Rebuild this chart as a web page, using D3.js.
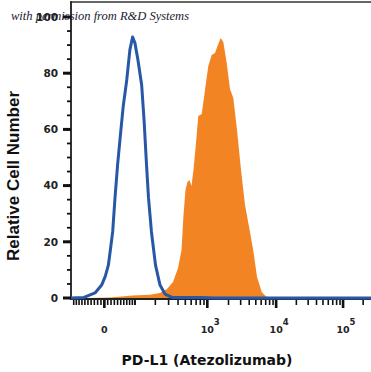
<!DOCTYPE html>
<html>
<head>
<meta charset="utf-8">
<script src="https://cdn.jsdelivr.net/npm/d3@7"></script>
<style>
  body { margin: 0; background: #fff; }
  svg { display: block; }
</style>
</head>
<body>
<div id="chart"></div>
<script>
var WIDTH = 371, HEIGHT = 372;
var M = { left: 71, right: 371, top: 17, bottom: 298 };

// isotype control (blue outline): fluorescence intensity and relative cell number
var isotypeX = [-111, -63, -28, -8, 3, 12, 18, 25, 32, 40, 49, 58, 70, 81, 91, 100, 112, 128, 139, 151, 161, 177, 201, 231, 269, 333, 792, 1283, 262144];
var isotypeY = [0, 0.2, 1.8, 4.6, 7.8, 11.7, 17.1, 23.6, 35.5, 47.3, 58, 68.1, 77.6, 88.3, 92.9, 90.7, 84.7, 75.8, 63.3, 47.3, 35.6, 23.5, 11.7, 4.6, 1.4, 0.2, 0.2, 0, 0];

// PD-L1 (Atezolizumab) stained cells (orange fill)
var pdl1X = [-50, 17, 92, 169, 231, 286, 343, 400, 445, 473, 503, 535, 569, 606, 645, 698, 750, 836, 929, 1033, 1153, 1283, 1383, 1546, 1684, 1884, 2101, 2345, 2654, 3034, 3471, 4108, 4625, 5209, 6111, 7074, 8681];
var pdl1Y = [0, 0.2, 0.9, 1.2, 1.8, 3.2, 5.7, 10.7, 17.1, 29.5, 38.4, 41.3, 42, 39.9, 45.6, 55.2, 64.8, 65.5, 74, 82.6, 86.5, 87.2, 89.5, 92.5, 91.1, 83.6, 74.4, 71.2, 59.8, 45.6, 33.1, 23.5, 16.4, 7.5, 2.1, 0.5, 0];

var yMajor = [0, 20, 40, 60, 80, 100];
var yMinor = d3.range(0, 101, 5);
var xMajor = [0, 1e3, 1e4, 1e5];
var xBase = ['0', '10', '10', '10'];
var xExp = ['', '3', '4', '5'];

// logicle (biexponential) transform, data -> display [0, 1]
var logicle = (function (T, W, Mdec) {
  var w = W / Mdec, x1 = w, x0 = 2 * w;
  var b = Mdec * Math.LN10;
  var lo = 1e-9, hi = b;
  for (var i = 0; i < 80; i++) {
    var mid = (lo + hi) / 2;
    if (2 * (Math.log(mid) - Math.log(b)) + w * (b + mid) > 0) hi = mid; else lo = mid;
  }
  var d = (lo + hi) / 2;
  var ca = Math.exp(x0 * (b + d));
  var mfa = Math.exp(b * x1) - ca / Math.exp(d * x1);
  var a = T / ((Math.exp(b) - mfa) - ca / Math.exp(d));
  var c = ca * a, f = -mfa * a;
  function inverse(y) {
    var neg = y < x1;
    if (neg) y = 2 * x1 - y;
    var v = a * Math.exp(b * y) + f - c * Math.exp(-d * y);
    return neg ? -v : v;
  }
  return function (v) {
    var l = -0.5, h = 1.2;
    for (var i = 0; i < 60; i++) {
      var m = (l + h) / 2;
      if (inverse(m) < v) l = m; else h = m;
    }
    return (l + h) / 2;
  };
})(262144, 0.5, 4.5);

var xDisp = d3.scaleLinear().domain([0, 1]).range([M.left, M.right]);
var x = function (v) { return xDisp(logicle(v)); };
var y = d3.scaleLinear().domain([0, 100]).range([M.bottom, M.top]);

// minor x ticks: every 10 near zero, then 1..9 x each decade
var xMinor = d3.range(-100, 101, 10);
[100, 1e3, 1e4, 1e5].forEach(function (p) {
  d3.range(1, 10).forEach(function (k) { if (k * p <= 262144) xMinor.push(k * p); });
});

var svg = d3.select('#chart').append('svg')
  .attr('width', WIDTH)
  .attr('height', HEIGHT)
  .style('background', 'white');

var pdl1 = pdl1X.map(function (v, i) { return [v, pdl1Y[i]]; });
var iso = isotypeX.map(function (v, i) { return [v, isotypeY[i]]; });

svg.append('path')
  .datum(pdl1)
  .attr('fill', '#f28423')
  .attr('d', d3.area()
    .x(function (d) { return x(d[0]); })
    .y0(y(0))
    .y1(function (d) { return y(d[1]); }));

// frame: top and left
svg.append('line')
  .attr('x1', M.left).attr('x2', M.right)
  .attr('y1', 2).attr('y2', 2)
  .attr('stroke', '#333').attr('stroke-width', 1.5);
svg.append('line')
  .attr('x1', M.left).attr('x2', M.left)
  .attr('y1', 1).attr('y2', M.bottom + 1)
  .attr('stroke', '#333').attr('stroke-width', 2);
svg.append('line')
  .attr('x1', M.left - 1).attr('x2', M.right)
  .attr('y1', M.bottom + 1).attr('y2', M.bottom + 1)
  .attr('stroke', '#222').attr('stroke-width', 2);

svg.append('path')
  .datum(iso)
  .attr('fill', 'none')
  .attr('stroke', '#2757a6')
  .attr('stroke-width', 3)
  .attr('stroke-linejoin', 'round')
  .attr('d', d3.line()
    .x(function (d) { return x(d[0]); })
    .y(function (d) { return y(d[1]); }));

// y ticks
svg.selectAll('.ymin').data(yMinor).enter().append('line')
  .attr('x1', M.left - 4).attr('x2', M.left)
  .attr('y1', function (d) { return y(d); }).attr('y2', function (d) { return y(d); })
  .attr('stroke', '#111').attr('stroke-width', 1.8);
svg.selectAll('.ymaj').data(yMajor).enter().append('line')
  .attr('x1', M.left - 8).attr('x2', M.left)
  .attr('y1', function (d) { return y(d); }).attr('y2', function (d) { return y(d); })
  .attr('stroke', '#111').attr('stroke-width', 3);
svg.selectAll('.ylab').data(yMajor).enter().append('text')
  .attr('x', 58)
  .attr('y', function (d) { return y(d); })
  .attr('dy', '0.36em')
  .attr('text-anchor', 'end')
  .style('font', 'bold 10.5px "DejaVu Sans"')
  .attr('fill', '#222')
  .text(function (d) { return d; });

// x ticks
svg.selectAll('.xmin').data(xMinor).enter().append('line')
  .attr('x1', function (d) { return x(d); }).attr('x2', function (d) { return x(d); })
  .attr('y1', M.bottom + 2).attr('y2', M.bottom + 7)
  .attr('stroke', '#111').attr('stroke-width', 1.6);
svg.selectAll('.xmaj').data(xMajor).enter().append('line')
  .attr('x1', function (d) { return x(d); }).attr('x2', function (d) { return x(d); })
  .attr('y1', M.bottom + 2).attr('y2', M.bottom + 10)
  .attr('stroke', '#111').attr('stroke-width', 2.6);
svg.selectAll('.xlab').data(xMajor).enter().append('text')
  .attr('x', function (d) { return x(d); })
  .attr('y', 333)
  .attr('text-anchor', 'middle')
  .style('font', 'bold 9.5px "DejaVu Sans"')
  .attr('fill', '#222')
  .text(function (d, i) { return xBase[i]; });
svg.selectAll('.xexp').data(xMajor).enter().append('text')
  .attr('x', function (d) { return x(d) + 6.5; })
  .attr('y', 325)
  .style('font', 'bold 8.5px "DejaVu Sans"')
  .attr('fill', '#222')
  .text(function (d, i) { return xExp[i]; });

// axis titles
svg.append('text')
  .attr('transform', 'translate(19,176) rotate(-90)')
  .attr('text-anchor', 'middle')
  .style('font', 'bold 17px "Liberation Sans"')
  .attr('fill', '#111')
  .text('Relative Cell Number');
svg.append('text')
  .attr('x', 207).attr('y', 365)
  .attr('text-anchor', 'middle')
  .style('font', 'bold 14px "DejaVu Sans"')
  .attr('fill', '#111')
  .text('PD-L1 (Atezolizumab)');

// watermark
svg.append('text')
  .attr('x', 11).attr('y', 20)
  .style('font', 'italic 12.5px "Liberation Serif"')
  .attr('fill', '#1a1a2e')
  .text('with permission from R&D Systems');
</script>
</body>
</html>
